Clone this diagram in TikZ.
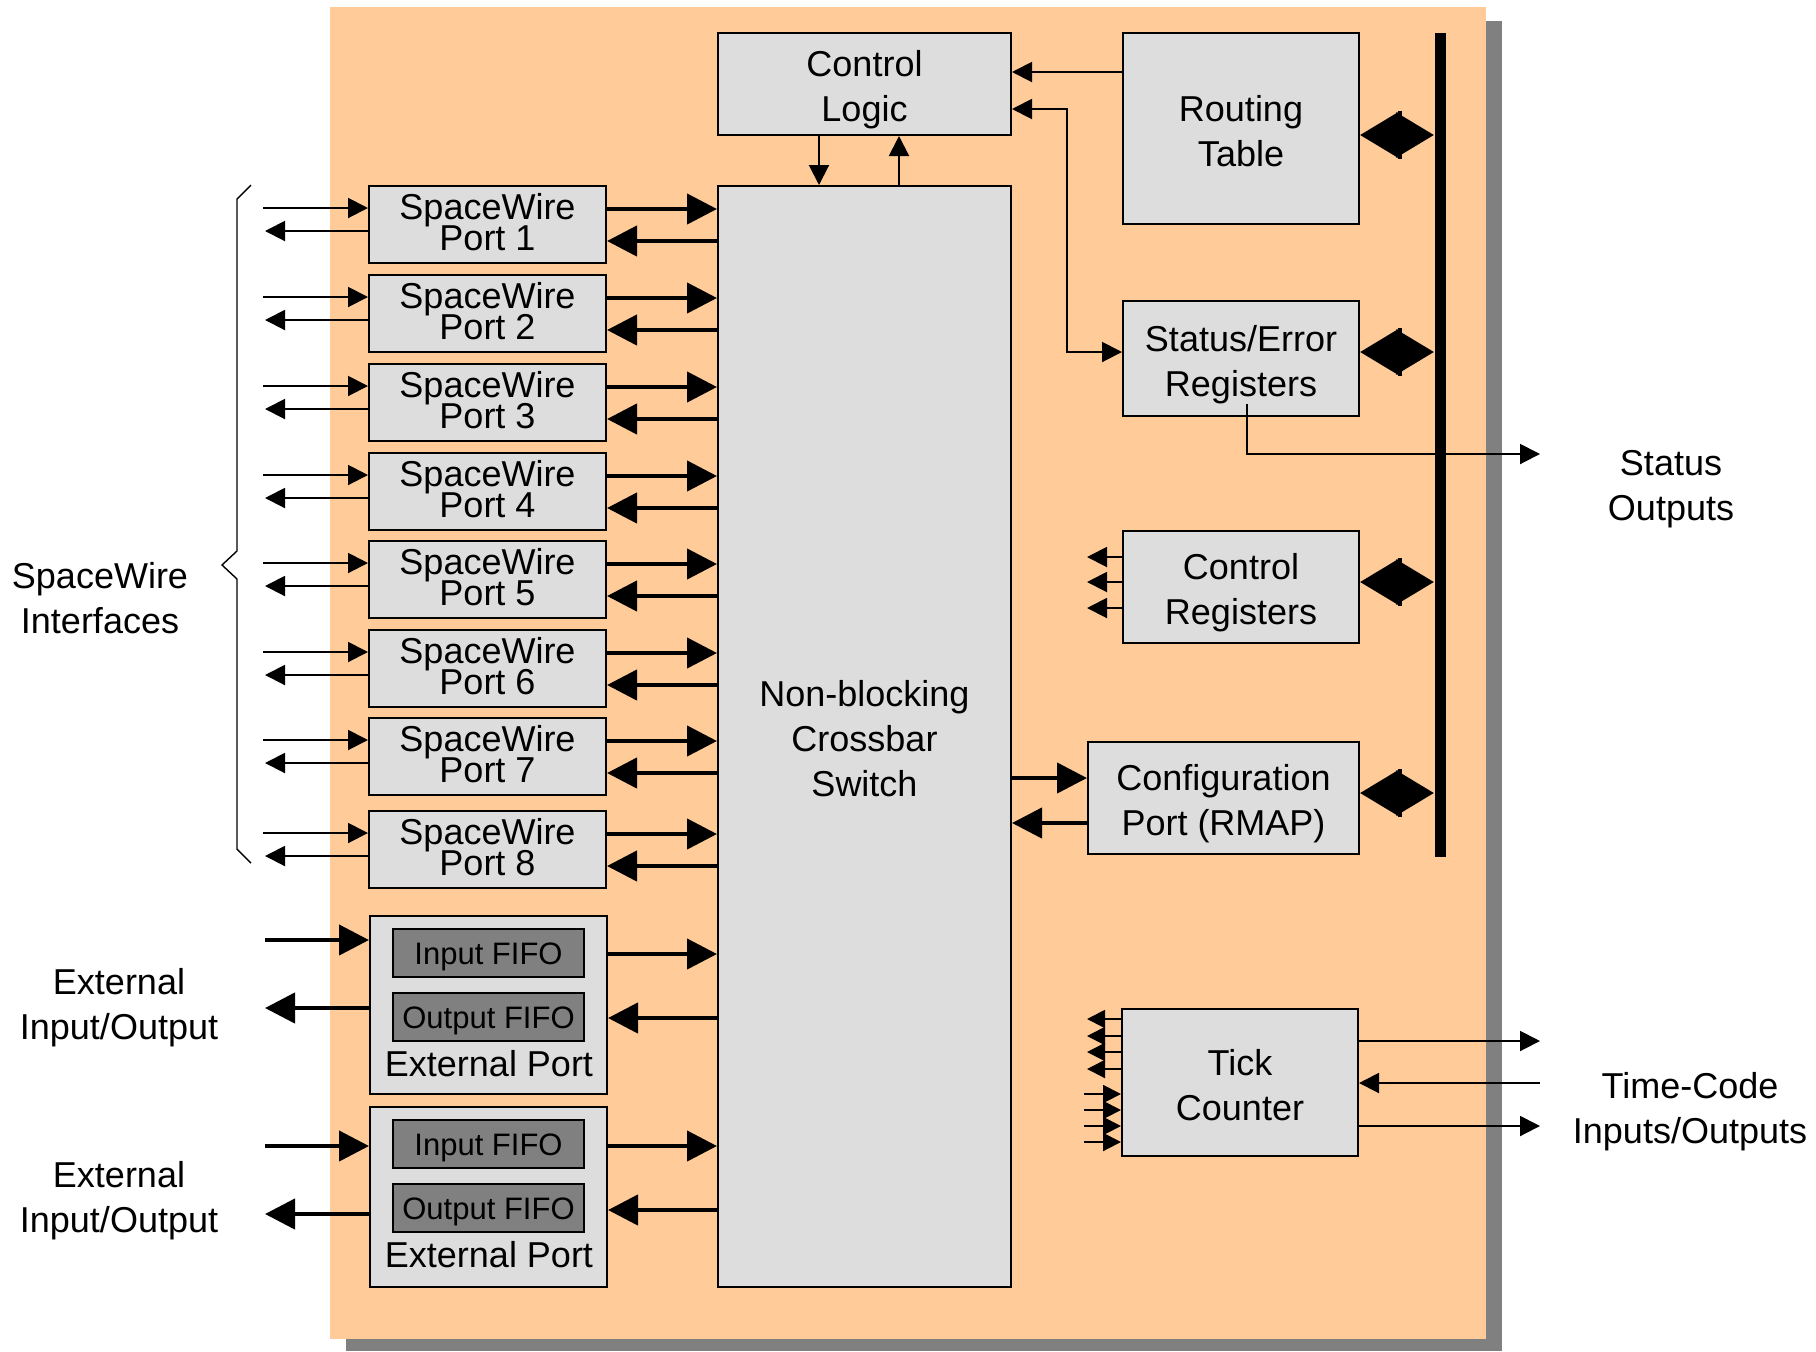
\documentclass[tikz,border=0pt]{standalone}
\usepackage{fontspec}
\setmainfont{Liberation Sans}
\usetikzlibrary{arrows.meta,calc}
\definecolor{tan}{HTML}{FFCC99}
\definecolor{boxgray}{HTML}{DDDDDD}
\definecolor{fifogray}{HTML}{808080}
\definecolor{shadowgray}{HTML}{808080}
\newcommand\mystrut{\rule[-5pt]{0pt}{25.3pt}}
\newcommand\pstrut{\rule[-3.1pt]{0pt}{17.1pt}}
\newcommand\fstrut{\rule[-4pt]{0pt}{19.3pt}}
\setlength{\lineskiplimit}{-100pt}
\begin{document}
\begin{tikzpicture}[x=0.5pt,y=-0.5pt,
  box/.style args={#1/#2/#3/#4}{minimum width={(#3-#1)*0.5pt}, minimum height={(#4-#2)*0.5pt}, at={({(#1+#3)/2},{(#2+#4)/2})}},
  blk/.style={draw=black, fill=boxgray, line width=1pt, inner sep=0pt, align=center, font=\fontsize{18pt}{22.5pt}\selectfont},
  portblk/.style={blk, font=\fontsize{18pt}{15.5pt}\selectfont},
  fifo/.style={draw=black, fill=fifogray, line width=1pt, inner sep=0pt, font=\fontsize{15.5pt}{18pt}\selectfont},
  lbl/.style={align=center, font=\fontsize{18pt}{22.5pt}\selectfont, inner sep=0pt},
  thinarr/.style={line width=1pt, -{Triangle[length=10pt,width=10pt]}},
  smallarr/.style={line width=1pt, -{Triangle[length=9pt,width=9pt]}},
  thickarr/.style={line width=2.2pt, -{Triangle[length=15pt,width=15pt]}},
  busarr/.style={line width=3pt, {Triangle[length=19pt,width=22pt]}-{Triangle[length=19pt,width=22pt]}},
]
\useasboundingbox (0,0) rectangle (1816,1351);
% background with shadow
\fill[shadowgray] (346,21) rectangle (1502,1351);
\fill[tan] (330,7) rectangle (1486,1339);

% main blocks
\node[blk, box=718/33/1011/135] (cl) {Control\mystrut\\Logic\mystrut};
\node[blk, box=718/186/1011/1287] (xb) {Non-blocking\mystrut\\Crossbar\mystrut\\Switch\mystrut};
\node[blk, box=1123/33/1359/224] (rt) {Routing\mystrut\\Table\mystrut};
\node[blk, box=1123/301/1359/416] (se) {Status/Error\mystrut\\Registers\mystrut};
\node[blk, box=1123/531/1359/643] (cr) {Control\mystrut\\Registers\mystrut};
\node[blk, box=1088/742/1359/854] (cp) {Configuration\mystrut\\Port (RMAP)\mystrut};
\node[blk, box=1122/1009/1358/1156] (tc) {Tick\mystrut\\Counter\mystrut};

% bus
\coordinate (bt) at (1440,33);
\coordinate (bb) at (1440,857);
\draw[line width=5.5pt] (bt) -- (bb);
\foreach \n/\y in {rt/135,se/352,cr/582,cp/793}{
  \draw[busarr] (\n.east |- 0,\y) -- ($(bt |- 0,\y)+(-6,0)$);
  \fill ($(\n.east |- 0,\y)+(38,-24)$) rectangle ($(\n.east |- 0,\y)+(42,24)$);
}

% control logic links
\draw[thinarr] (cl.south -| 819,0) -- (xb.north -| 819,0);
\draw[thinarr] (xb.north -| 899,0) -- (cl.south -| 899,0);
\draw[thinarr] (rt.west |- 0,72) -- (cl.east |- 0,72);
\draw[line width=1pt, {Triangle[length=10pt,width=10pt]}-{Triangle[length=10pt,width=10pt]}]
  (cl.east |- 0,109) -- (1067,109) -- (1067,352) -- (se.west |- 0,352);

% status outputs
\coordinate (so) at (1540,454);
\draw[thinarr] ($(se.south -| 1247,0)+(0,-13)$) -- (1247,454) -- (so);

% control registers outputs
\foreach \y in {557,582,608}{
  \draw[thinarr] (cr.west |- 0,\y) -- (1087,\y);
}

% config port links
\draw[thickarr] (xb.east |- 0,778) -- (cp.west |- 0,778);
\draw[thickarr] (cp.west |- 0,823) -- (xb.east |- 0,823);

% tick counter
\foreach \y in {1019,1036,1052,1069}{
  \draw[smallarr] (tc.west |- 0,\y) -- (1087,\y);
}
\foreach \y in {1094,1110,1126,1142}{
  \draw[smallarr] (1084,\y) -- (tc.west |- 0,\y);
}
\draw[thinarr] (tc.east |- 0,1041) -- (1540,1041);
\draw[thinarr] (1540,1083) -- (tc.east |- 0,1083);
\draw[thinarr] (tc.east |- 0,1126) -- (1540,1126);

% SpaceWire ports
\foreach \i/\t in {1/186,2/275,3/364,4/453,5/541,6/630,7/718,8/811}{
  \pgfmathsetmacro{\bot}{\t+77}
  \pgfmathsetmacro{\ya}{\t+22}
  \pgfmathsetmacro{\yb}{\t+45}
  \pgfmathsetmacro{\yc}{\t+23}
  \pgfmathsetmacro{\yd}{\t+55}
  \node[portblk, box=369/\t/606/\bot] (p\i) {SpaceWire\pstrut\\Port \i\pstrut};
  \draw[thinarr] (263,\ya) -- (p\i.west |- 0,\ya);
  \draw[thinarr] (p\i.west |- 0,\yb) -- (265,\yb);
  \draw[thickarr] (p\i.east |- 0,\yc) -- (xb.west |- 0,\yc);
  \draw[thickarr] (xb.west |- 0,\yd) -- (p\i.east |- 0,\yd);
}

% external ports
\node[blk, box=370/916/607/1094] (ep1) {};
\node[fifo, box=393/929/584/977] (if1) {Input FIFO\fstrut};
\node[fifo, box=393/993/584/1041] (of1) {Output FIFO\fstrut};
\node[lbl, anchor=base] (ep1t) at (489,1076) {External Port};
\node[blk, box=370/1107/607/1287] (ep2) {};
\node[fifo, box=393/1120/584/1168] (if2) {Input FIFO\fstrut};
\node[fifo, box=393/1184/584/1232] (of2) {Output FIFO\fstrut};
\node[lbl, anchor=base] (ep2t) at (489,1267) {External Port};

\draw[thickarr] (265,940) -- (ep1.west |- 0,940);
\draw[thickarr] (ep1.west |- 0,1008) -- (265,1008);
\draw[thickarr] (ep1.east |- 0,954) -- (xb.west |- 0,954);
\draw[thickarr] (xb.west |- 0,1018) -- (ep1.east |- 0,1018);
\draw[thickarr] (265,1146) -- (ep2.west |- 0,1146);
\draw[thickarr] (ep2.west |- 0,1214) -- (265,1214);
\draw[thickarr] (ep2.east |- 0,1146) -- (xb.west |- 0,1146);
\draw[thickarr] (xb.west |- 0,1210) -- (ep2.east |- 0,1210);

% brace
\draw[line width=0.7pt] (251,185) -- (237,199) -- (237,551) -- (222,565) -- (237,579) -- (237,849) -- (251,863);

% outside labels
\node[lbl] (swi) at (100,598) {SpaceWire\\Interfaces};
\node[lbl] (eio1) at (119,1008) {External\\Input/Output};
\node[lbl] (eio2) at (119,1201) {External\\Input/Output};
\node[lbl] (sol) at (1671,489) {Status\\Outputs};
\node[lbl] (tcl) at (1690,1112) {Time-Code\\Inputs/Outputs};
\end{tikzpicture}
\end{document}
